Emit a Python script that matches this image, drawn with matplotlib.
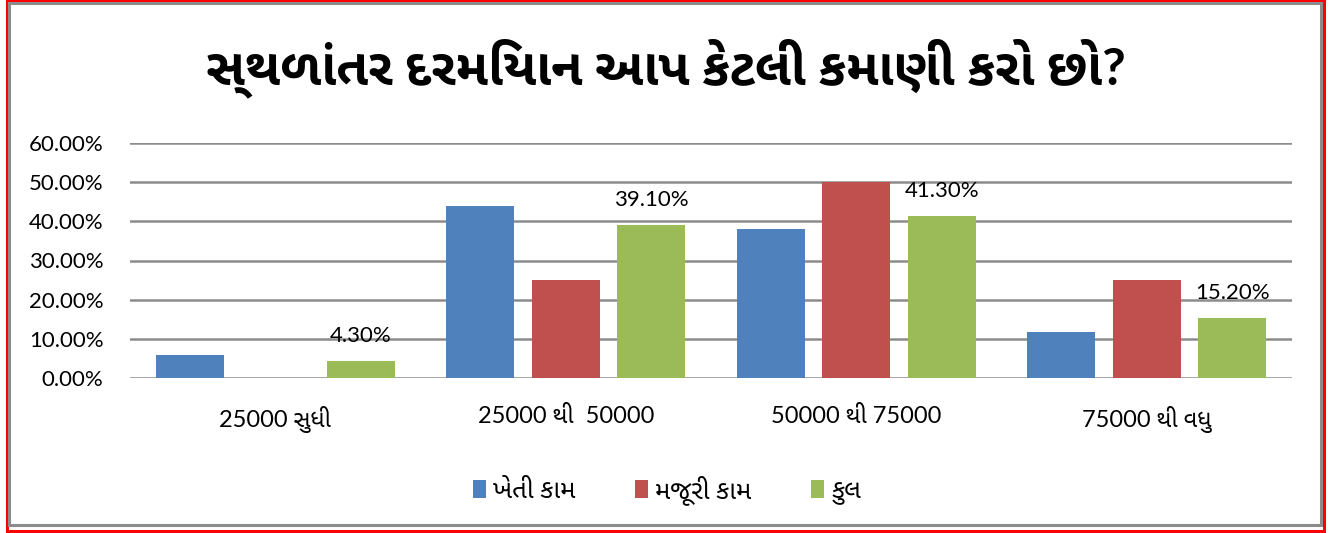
import numpy as np
import matplotlib
matplotlib.use("Agg")
from matplotlib import pyplot as plt
from matplotlib.patches import Rectangle

titulo = "સ્થળાંતર દરમિયાન આપ કેટલી કમાણી કરો છો?"
categorias = ["25000 સુધી", "25000 થી  50000", "50000 થી 75000", "75000 થી વધુ"]
series = ["ખેતી કામ", "મજૂરી કામ", "કુલ"]
kheti = [0.059, 0.44, 0.38, 0.118]
majuri = [0.0, 0.25, 0.50, 0.25]
kul = [0.043, 0.391, 0.413, 0.152]
etiquetas_kul = ["4.30%", "39.10%", "41.30%", "15.20%"]
yticks = [0, 0.1, 0.2, 0.3, 0.4, 0.5, 0.6]
colores = ["#4F81BD", "#C0504D", "#9BBB59"]

# Lato para lo latino, Noto Sans Gujarati UI para el gujarati
plt.rcParams['font.family'] = ["Lato", "Noto Sans Gujarati UI", "FreeSerif", "DejaVu Sans"]

fig = plt.figure(figsize=(13.42, 5.33), dpi=100)
W, H = 1342, 533

# bordes rojo y gris
fig.patches.append(Rectangle((6.5 / W, 1 - 530.5 / H), (1324 - 6.5) / W, 530 / H,
                             transform=fig.transFigure, fill=False,
                             edgecolor="#FF0000", linewidth=2.2))
fig.patches.append(Rectangle((8.5 / W, 1 - 525 / H), (1321 - 8.5) / W, (525 - 2.5) / H,
                             transform=fig.transFigure, fill=False,
                             edgecolor="#8C8C8C", linewidth=2.2))

ax = fig.add_axes([130 / W, 1 - 378 / H, (1292 - 130) / W, (378 - 143) / H])

x = np.arange(len(categorias))
ancho = 0.234
paso = 0.294
b1 = ax.bar(x - paso, kheti, ancho, color=colores[0], label=series[0], zorder=3)
b2 = ax.bar(x, majuri, ancho, color=colores[1], label=series[1], zorder=3)
b3 = ax.bar(x + paso, kul, ancho, color=colores[2], label=series[2], zorder=3)

for xi, v, t in zip(x + paso, kul, etiquetas_kul):
    ax.annotate(t, (xi, v), xytext=(0, 11), textcoords="offset points",
                ha="center", va="bottom", fontsize=16, zorder=4)

ax.set_xlim(-0.5, len(categorias) - 0.5)
ax.set_ylim(0, 0.6)
ax.set_yticks(yticks)
ax.set_yticklabels(["%.2f%%" % (v * 100) for v in yticks], fontsize=16)
ax.set_xticks(x)
ax.set_xticklabels(categorias, fontsize=17)
ax.tick_params(axis="y", length=0, pad=19)
ax.tick_params(axis="x", length=0, pad=20)
ax.yaxis.grid(True, color="#8C8C8C", linewidth=1.8, zorder=0)
for s in ax.spines.values():
    s.set_visible(False)
ax.set_axisbelow(True)

fig.text(0.496, 1 - 68 / H, titulo, ha="center", va="center",
         fontsize=37, fontweight="bold")

fig.legend(handles=[b1, b2, b3], labels=series, loc="center",
           bbox_to_anchor=(0.497, 1 - 490 / H), ncol=3, frameon=False,
           fontsize=18.5, handlelength=0.5, handleheight=0.7,
           handletextpad=0.3, columnspacing=2.3)

fig.savefig("out.png", dpi=100)
